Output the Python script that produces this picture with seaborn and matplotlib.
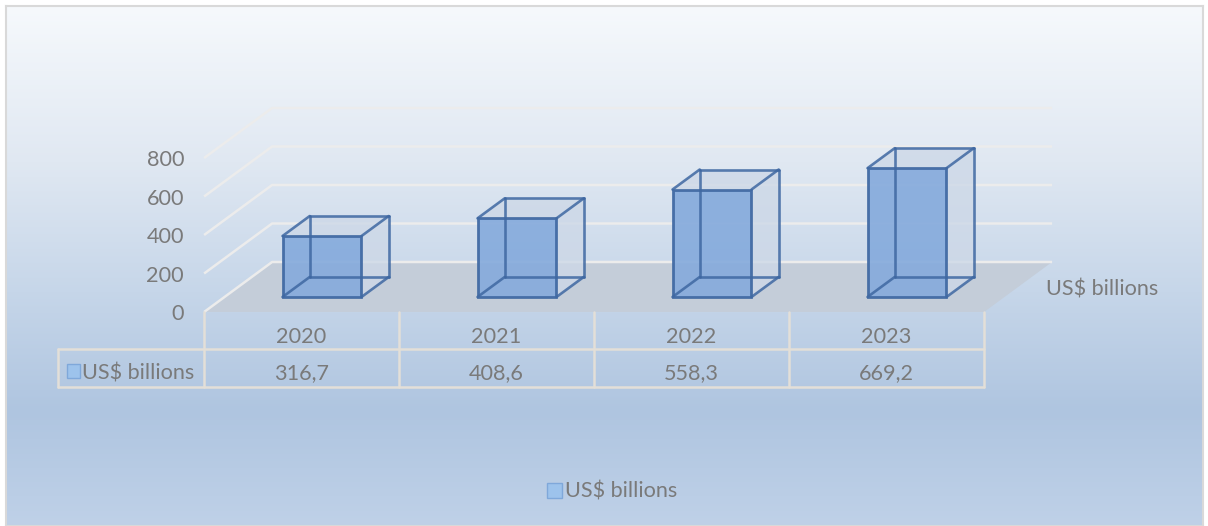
import numpy as np
import pandas as pd
import matplotlib
matplotlib.use("Agg")
import matplotlib.pyplot as plt
from matplotlib.patches import Polygon, Rectangle, Patch
from matplotlib.colors import LinearSegmentedColormap
import seaborn as sns

# ---- data ----
years = ["2020", "2021", "2022", "2023"]
values = [316.7, 408.6, 558.3, 669.2]
y_ticks = [0, 200, 400, 600, 800]
series_name = "US$ billions"

sns.set_theme(style="white")
plt.rcParams["font.family"] = ["Lato", "DejaVu Sans"]

TEXT = "#7a7a7a"
EDGE = "#3f68a2"
GRID = "#ececec"
TABLE_LINE = "#e3dfd8"
FS = 15.6

W, H = 1208, 526
fig = plt.figure(figsize=(W / 100, H / 100), dpi=100)
fig.patch.set_facecolor("white")

# ---- gradient chart background with thin frame ----
bg = fig.add_axes([6 / W, 0, (1203 - 6) / W, (H - 6) / H])
cmap = LinearSegmentedColormap.from_list(
    "bg", [(0.0, "#f6f9fc"), (0.3, "#e0e8f2"), (0.55, "#c6d6e9"),
           (0.78, "#afc5e0"), (1.0, "#bfd1e8")])
bg.imshow(np.linspace(0, 1, 256)[:, None], aspect="auto", cmap=cmap,
          extent=(0, 1, 0, 1), origin="upper")
bg.set_xticks([]); bg.set_yticks([])
for s in bg.spines.values():
    s.set_color("#d9d9d9"); s.set_linewidth(1.5)

# ---- main axes: x = category, y = value, in the plane of the bar fronts ----
X0_PX, PX_PER_CAT = 322, 195.0
Y0_PX, PX_PER_VAL = 297, 0.1925
ax = fig.add_axes([0, 0, 1, 1])
ax.patch.set_alpha(0)

df = pd.DataFrame({"year": years, "value": values})
sns.barplot(data=df, x="year", y="value", ax=ax, width=0.405,
            color="#86abdc", saturation=1, zorder=5)

ax.set_xlim(-X0_PX / PX_PER_CAT, (W - X0_PX) / PX_PER_CAT)
ax.set_ylim((Y0_PX - H) / PX_PER_VAL, Y0_PX / PX_PER_VAL)
ax.axis("off")


def px(p):
    return (p - X0_PX) / PX_PER_CAT


def py(p):
    return (Y0_PX - p) / PX_PER_VAL


# oblique depth direction
DX = 68 / PX_PER_CAT
DY = 50 / PX_PER_VAL
D_FRONT, D_BACK, D_BAR = -0.3, 0.7, 0.4
n = len(years)


def proj(x, v, d):
    return x + d * DX, v + d * DY


# floor
floor = [proj(-0.5, 0, D_FRONT), proj(n - 0.5, 0, D_FRONT),
         proj(n - 0.5, 0, D_BACK), proj(-0.5, 0, D_BACK)]
ax.add_patch(Polygon(floor, closed=True, facecolor="#c4cdd9",
                     edgecolor="none", zorder=1))

# back-wall gridlines and left-wall diagonals
for v in y_ticks:
    a = proj(-0.5, v, D_FRONT)
    b = proj(-0.5, v, D_BACK)
    c = proj(n - 0.5, v, D_BACK)
    ax.plot([a[0], b[0], c[0]], [a[1], b[1], c[1]], color=GRID, lw=1.8,
            solid_capstyle="butt", zorder=2)
    ax.text(px(184), a[1] - 2 / PX_PER_VAL, str(v), ha="right", va="center",
            fontsize=FS, color=TEXT)

# 3D boxes built on the seaborn bar fronts
for bar in ax.patches[:]:
    if not isinstance(bar, Rectangle) or bar.get_height() == 0:
        continue
    x0, w, h = bar.get_x(), bar.get_width(), bar.get_height()
    x1 = x0 + w
    bar.set_alpha(0.92)
    bar.set_edgecolor(EDGE)
    bar.set_linewidth(2)
    f = [(x0, 0), (x1, 0), (x1, h), (x0, h)]
    b = [proj(x, v, D_BAR) for x, v in f]
    side = [f[1], b[1], b[2], f[2]]
    top = [f[3], f[2], b[2], b[3]]
    for poly in (side, top):
        ax.add_patch(Polygon(poly, closed=True, facecolor="#cdd8e7",
                             alpha=0.8, edgecolor="none", zorder=4))
    # every edge of the wire frame
    edges = [(b[0], b[1]), (b[1], b[2]), (b[2], b[3]), (b[3], b[0]),
             (f[0], b[0]), (f[1], b[1]), (f[2], b[2]), (f[3], b[3])]
    for p, q in edges:
        ax.plot([p[0], q[0]], [p[1], q[1]], color=EDGE, lw=1.9,
                alpha=0.85, solid_capstyle="round", zorder=6)

# depth-axis label
ax.text(px(1046), py(290), series_name, ha="left", va="center",
        fontsize=FS, color=TEXT)

# ---- data table ----
top_y, mid_y, bot_y = py(312), py(349), py(387)
left_x = px(58)
col_edges = [proj(i - 0.5, 0, D_FRONT)[0] for i in range(n + 1)]
for xe in col_edges:
    ax.plot([xe, xe], [top_y, bot_y], color=TABLE_LINE, lw=1.8, zorder=2)
ax.plot([left_x, left_x], [mid_y, bot_y], color=TABLE_LINE, lw=1.8, zorder=2)
for yy in (mid_y, bot_y):
    ax.plot([left_x, col_edges[-1]], [yy, yy], color=TABLE_LINE, lw=1.8,
            zorder=2)
for i, (yr, v) in enumerate(zip(years, values)):
    cx = proj(i, 0, D_FRONT)[0]
    ax.text(cx, py(337), yr, ha="center", va="center", fontsize=FS,
            color=TEXT)
    ax.text(cx, py(373), f"{v:.1f}".replace(".", ","), ha="center",
            va="center", fontsize=FS, color=TEXT)
ax.add_patch(Rectangle((px(67), py(378)), px(80) - px(67), py(364) - py(378),
                       facecolor="#9dc3ec", edgecolor="#7fa8da", lw=1,
                       zorder=3))
ax.text(px(82), py(373), series_name, ha="left", va="center", fontsize=FS,
        color=TEXT)

# ---- legend ----
fig.legend(handles=[Patch(facecolor="#9dc3ec", edgecolor="#7fa8da")],
           labels=[series_name], loc="center",
           bbox_to_anchor=(612 / W, 1 - 492 / H), frameon=False,
           handlelength=0.7, handleheight=0.7, handletextpad=0.15,
           fontsize=FS, labelcolor=TEXT)

fig.savefig("out.png", dpi=100)
